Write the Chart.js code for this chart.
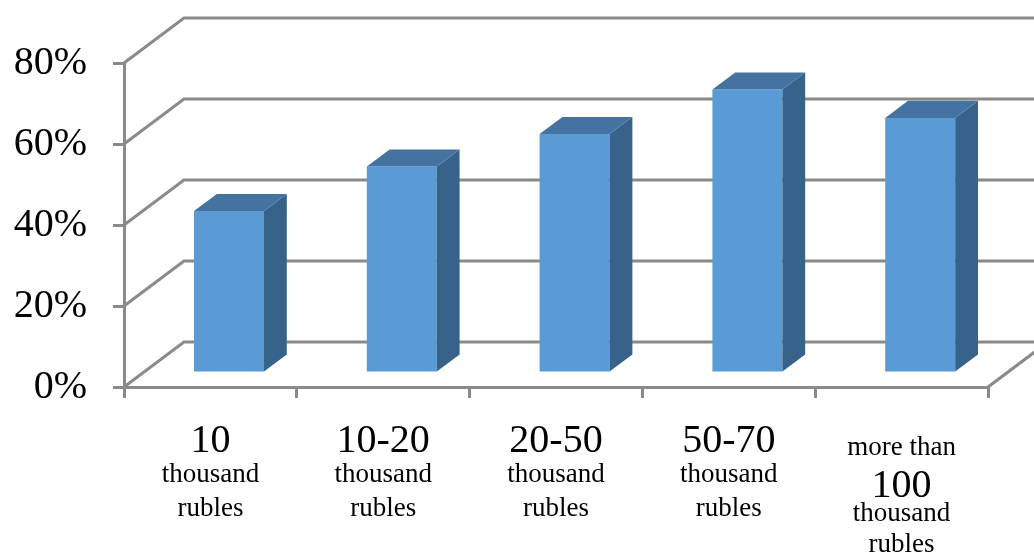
<!DOCTYPE html>
<html>
<head>
<meta charset="utf-8">
<script src="https://cdn.jsdelivr.net/npm/chart.js@4.4.1/dist/chart.umd.min.js"></script>
<style>
  html, body { margin: 0; padding: 0; background: #fff; }
  #wrap { width: 1034px; height: 554px; }
</style>
</head>
<body>
<div id="wrap"><canvas id="chart" width="1034" height="554"></canvas></div>
<script>
// chart data
const categories = [
  ['10', 'thousand', 'rubles'],
  ['10-20', 'thousand', 'rubles'],
  ['20-50', 'thousand', 'rubles'],
  ['50-70', 'thousand', 'rubles'],
  ['more than', '100', 'thousand', 'rubles']
];
const shares = [40, 51, 59, 70, 63];
const yTicks = [0, 20, 40, 60, 80];

// look of the fake 3D box
const GRID = '#8a8a8a';
const FRONT = '#5b9bd5';
const TOP = '#4473a2';
const SIDE = '#37638a';
const DEPTH_X = 60, DEPTH_Y = -45;        // floor depth, front to back wall
const BAR_FRONT = 0.31, BAR_BACK = 0.69;  // where the bars sit in that depth
const SERIF = '"Liberation Serif", "Times New Roman", serif';

const isNumber = s => /^\d/.test(s);

const box3d = {
  id: 'box3d',
  beforeDatasetsDraw(chart) {
    const { ctx, chartArea: a, scales: { y } } = chart;
    ctx.save();
    ctx.strokeStyle = GRID;
    ctx.lineWidth = 3;
    ctx.lineJoin = 'miter';
    // back wall lines and the diagonals on the left wall
    yTicks.forEach(v => {
      const py = y.getPixelForValue(v);
      ctx.beginPath();
      ctx.moveTo(a.left, py);
      ctx.lineTo(a.left + DEPTH_X, py + DEPTH_Y);
      ctx.lineTo(a.right + DEPTH_X, py + DEPTH_Y);
      ctx.stroke();
    });
    // right edge of the floor
    const base = y.getPixelForValue(0);
    ctx.beginPath();
    ctx.moveTo(a.right, base);
    ctx.lineTo(a.right + DEPTH_X, base + DEPTH_Y);
    ctx.stroke();
    ctx.restore();

    // the library bars become the front faces, pushed into the box
    ctx.save();
    ctx.translate(DEPTH_X * BAR_FRONT, DEPTH_Y * BAR_FRONT);
  },
  afterDatasetsDraw(chart) {
    const { ctx } = chart;
    ctx.restore();
    const fx = DEPTH_X * BAR_FRONT, fy = DEPTH_Y * BAR_FRONT;
    const sx = DEPTH_X * (BAR_BACK - BAR_FRONT), sy = DEPTH_Y * (BAR_BACK - BAR_FRONT);
    chart.getDatasetMeta(0).data.forEach(bar => {
      const { x, y, base, width } = bar.getProps(['x', 'y', 'base', 'width'], true);
      const l = x - width / 2 + fx, r = x + width / 2 + fx;
      const t = y + fy, b = base + fy;
      ctx.fillStyle = SIDE;
      ctx.beginPath();
      ctx.moveTo(r, t);
      ctx.lineTo(r + sx, t + sy);
      ctx.lineTo(r + sx, b + sy);
      ctx.lineTo(r, b);
      ctx.closePath();
      ctx.fill();
      ctx.fillStyle = TOP;
      ctx.beginPath();
      ctx.moveTo(l, t);
      ctx.lineTo(l + sx, t + sy);
      ctx.lineTo(r + sx, t + sy);
      ctx.lineTo(r, t);
      ctx.closePath();
      ctx.fill();
    });
  },
  afterDraw(chart) {
    // category labels: numbers large, words small
    const { ctx, scales: { x } } = chart;
    ctx.save();
    ctx.fillStyle = '#000';
    ctx.textAlign = 'center';
    ctx.textBaseline = 'alphabetic';
    categories.forEach((lines, i) => {
      const cx = x.getPixelForValue(i);
      const rows = isNumber(lines[0]) ? [452, 482, 516] : [455, 497, 521, 552];
      lines.forEach((txt, j) => {
        ctx.font = (isNumber(txt) ? '40px ' : '27px ') + SERIF;
        ctx.fillText(txt, cx, rows[j]);
      });
    });
    ctx.restore();
  }
};

new Chart(document.getElementById('chart'), {
  type: 'bar',
  data: {
    labels: categories.map(c => c.join(' ')),
    datasets: [{
      data: shares,
      backgroundColor: FRONT,
      borderWidth: 0,
      barPercentage: 0.405,
      categoryPercentage: 1,
      clip: false
    }]
  },
  options: {
    responsive: false,
    animation: false,
    events: [],
    layout: { padding: { top: 63, right: 46, left: 0, bottom: 0 } },
    plugins: { legend: { display: false }, tooltip: { enabled: false } },
    scales: {
      x: {
        grid: { offset: true, drawOnChartArea: false, tickLength: 11, color: GRID, lineWidth: 3 },
        border: { color: GRID, width: 3 },
        ticks: { display: false },
        afterFit(scale) { scale.height = 167; }
      },
      y: {
        min: 0,
        max: 80,
        afterBuildTicks(scale) { scale.ticks = yTicks.map(v => ({ value: v })); },
        grid: { drawOnChartArea: false, tickLength: 11, color: GRID, lineWidth: 3 },
        border: { color: GRID, width: 3 },
        ticks: {
          padding: 26,
          color: '#000',
          font: { family: SERIF, size: 40 },
          callback: v => v + '%'
        },
        afterFit(scale) { scale.width = 124; }
      }
    }
  },
  plugins: [box3d]
});
</script>
</body>
</html>
